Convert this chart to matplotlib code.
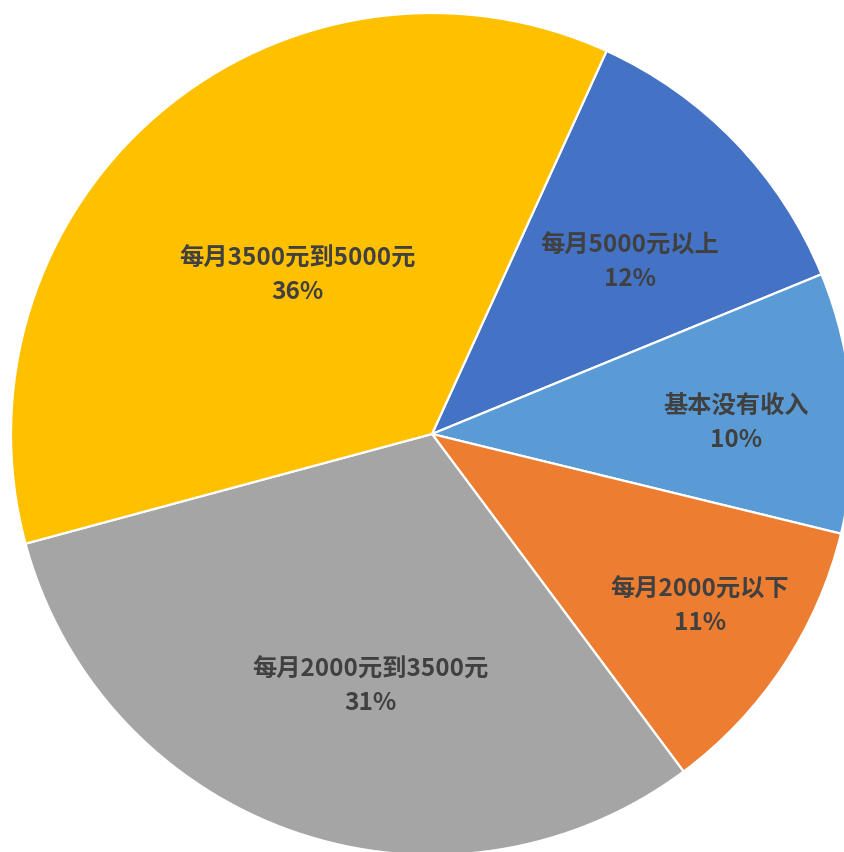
import numpy as np
import matplotlib
matplotlib.use("Agg")
import matplotlib.pyplot as plt

plt.rcParams['font.family'] = ['Noto Sans CJK SC', 'DejaVu Sans']

# slices in clockwise order, starting just right of 12 o'clock
labels = ['每月5000元以上', '基本没有收入', '每月2000元以下', '每月2000元到3500元', '每月3500元到5000元']
shares = [12, 10, 11, 31, 36]
colors = ['#4472C4', '#5B9BD5', '#ED7D31', '#A5A5A5', '#FFC000']
# where each label sits: distance from centre, and shift (deg, clockwise) from the slice middle
label_radius = [0.623, 0.722, 0.757, 0.617, 0.493]
label_shift = [2.9, 2.3, -0.7, -5.5, 0.0]

fig = plt.figure(figsize=(8.44, 8.52), dpi=100)
W, H = 844, 852
cx, cy, r = 432, 434, 421
ax = fig.add_axes([(cx - r) / W, (H - cy - r) / H, 2 * r / W, 2 * r / H])

wedges, _ = ax.pie(shares, colors=colors, startangle=65.5, counterclock=False,
                   wedgeprops=dict(edgecolor='white', linewidth=1.6))

for w, lab, s, d, sh in zip(wedges, labels, shares, label_radius, label_shift):
    ang = np.deg2rad((w.theta1 + w.theta2) / 2 - sh)
    x, y = d * np.cos(ang), d * np.sin(ang)
    ax.text(x, y, f'{lab}\n{s}%', ha='center', va='center', fontsize=17.5,
            fontweight='bold', color='#404040', linespacing=1.5)

ax.set_xlim(-1, 1)
ax.set_ylim(-1, 1)
ax.set_aspect('auto')
ax.axis('off')

fig.savefig('out.png', dpi=100)
